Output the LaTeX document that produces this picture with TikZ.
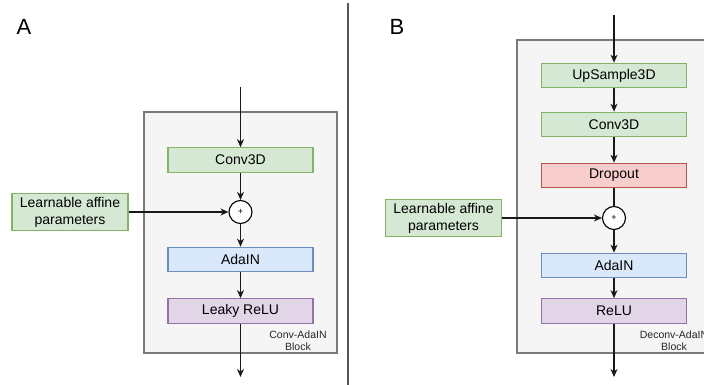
\documentclass[tikz,border=0pt]{standalone}
\usepackage{fontspec}
\setmainfont{Liberation Sans}
\usetikzlibrary{arrows.meta}

\definecolor{gfill}{HTML}{D5E8D4}\definecolor{gline}{HTML}{82B366}
\definecolor{bfill}{HTML}{DAE8FC}\definecolor{bline}{HTML}{6C8EBF}
\definecolor{rfill}{HTML}{F8CECC}\definecolor{rline}{HTML}{B85450}
\definecolor{pfill}{HTML}{E1D5E7}\definecolor{pline}{HTML}{9673A6}
\definecolor{kfill}{HTML}{F5F5F5}\definecolor{kline}{HTML}{7A7A7A}
\definecolor{divline}{HTML}{555555}

\tikzset{
  layer/.style={draw, line width=1.2pt, minimum width=145pt, minimum height=24.5pt,
    inner sep=0pt, font=\fontsize{14}{16}\selectfont},
  green/.style={layer, fill=gfill, draw=gline},
  blue/.style={layer, fill=bfill, draw=bline},
  red/.style={layer, fill=rfill, draw=rline},
  purple/.style={layer, fill=pfill, draw=pline},
  affine/.style={draw=gline, fill=gfill, line width=1.2pt, minimum width=116pt,
    minimum height=37pt, inner sep=0pt, align=center,
    font=\fontsize{14}{17}\selectfont},
  summer/.style={circle, draw=black, fill=white, line width=1.1pt,
    minimum size=23pt, inner sep=0pt, font=\fontsize{9}{9}\selectfont},
  blockbox/.style={draw=kline, fill=kfill, line width=1.2pt},
  blocklabel/.style={align=center, font=\fontsize{10.5}{12}\selectfont, text=black!85},
  flow/.style={line width=1.2pt, draw=black!90,
    -{Stealth[length=8pt,width=7pt,inset=2.5pt]}},
  plainflow/.style={line width=1.2pt, draw=black!90},
  panel/.style={font=\fontsize{22}{22}\selectfont}
}

\begin{document}
\begin{tikzpicture}[x=1pt, y=-1pt]
  \useasboundingbox (0,0) rectangle (704,385);
  \clip (0,0) rectangle (704,385);

  % panel divider
  \draw[divline, line width=2pt] (348,3) -- (348,385);

  % ---------- panel A: Conv-AdaIN block ----------
  \node[panel] (labA) at (24,27) {A};
  \draw[blockbox] (144,112) rectangle (337,353);
  \node[blocklabel] (blkA) at (298,341) {Conv-AdaIN\\Block};

  \coordinate (inA) at (240.5,87);
  \coordinate (outA) at (240.5,377);
  \node[green]  (convA)  at (240.5,160)   {Conv3D};
  \node[summer] (sumA)   at (240.5,212)   {+};
  \node[blue]   (adaA)   at (240.5,259.5) {AdaIN};
  \node[purple] (leaky)  at (240.5,311)   {Leaky ReLU};
  \node[affine] (affA)   at (70,212)      {Learnable affine\\parameters};

  \draw[flow] (inA) -- (convA);
  \draw[flow] (convA) -- (sumA);
  \draw[flow] (affA) -- (sumA);
  \draw[flow] (sumA) -- (adaA);
  \draw[flow] (adaA) -- (leaky);
  \draw[flow] (leaky) -- (outA);

  % ---------- panel B: Deconv-AdaIN block ----------
  \node[panel] (labB) at (397,27) {B};
  \draw[blockbox] (517,40) rectangle (725,353);
  \node[blocklabel] (blkB) at (674,341) {Deconv-AdaIN\\Block};

  \coordinate (inB) at (614,15);
  \coordinate (outB) at (614,377);
  \node[green]  (ups)    at (614,75.5)  {UpSample3D};
  \node[green]  (convB)  at (614,124.5) {Conv3D};
  \node[red]    (drop)   at (614,175.5) {Dropout};
  \node[summer] (sumB)   at (614,218)   {+};
  \node[blue]   (adaB)   at (614,265.5) {AdaIN};
  \node[purple] (relu)   at (614,311)   {ReLU};
  \node[affine] (affB)   at (443.5,218) {Learnable affine\\parameters};

  \draw[flow] (inB) -- (ups);
  \draw[flow] (ups) -- (convB);
  \draw[flow] (convB) -- (drop);
  \draw[plainflow] (drop) -- (sumB);
  \draw[flow] (affB) -- (sumB);
  \draw[flow] (sumB) -- (adaB);
  \draw[flow] (adaB) -- (relu);
  \draw[flow] (relu) -- (outB);
\end{tikzpicture}
\end{document}
